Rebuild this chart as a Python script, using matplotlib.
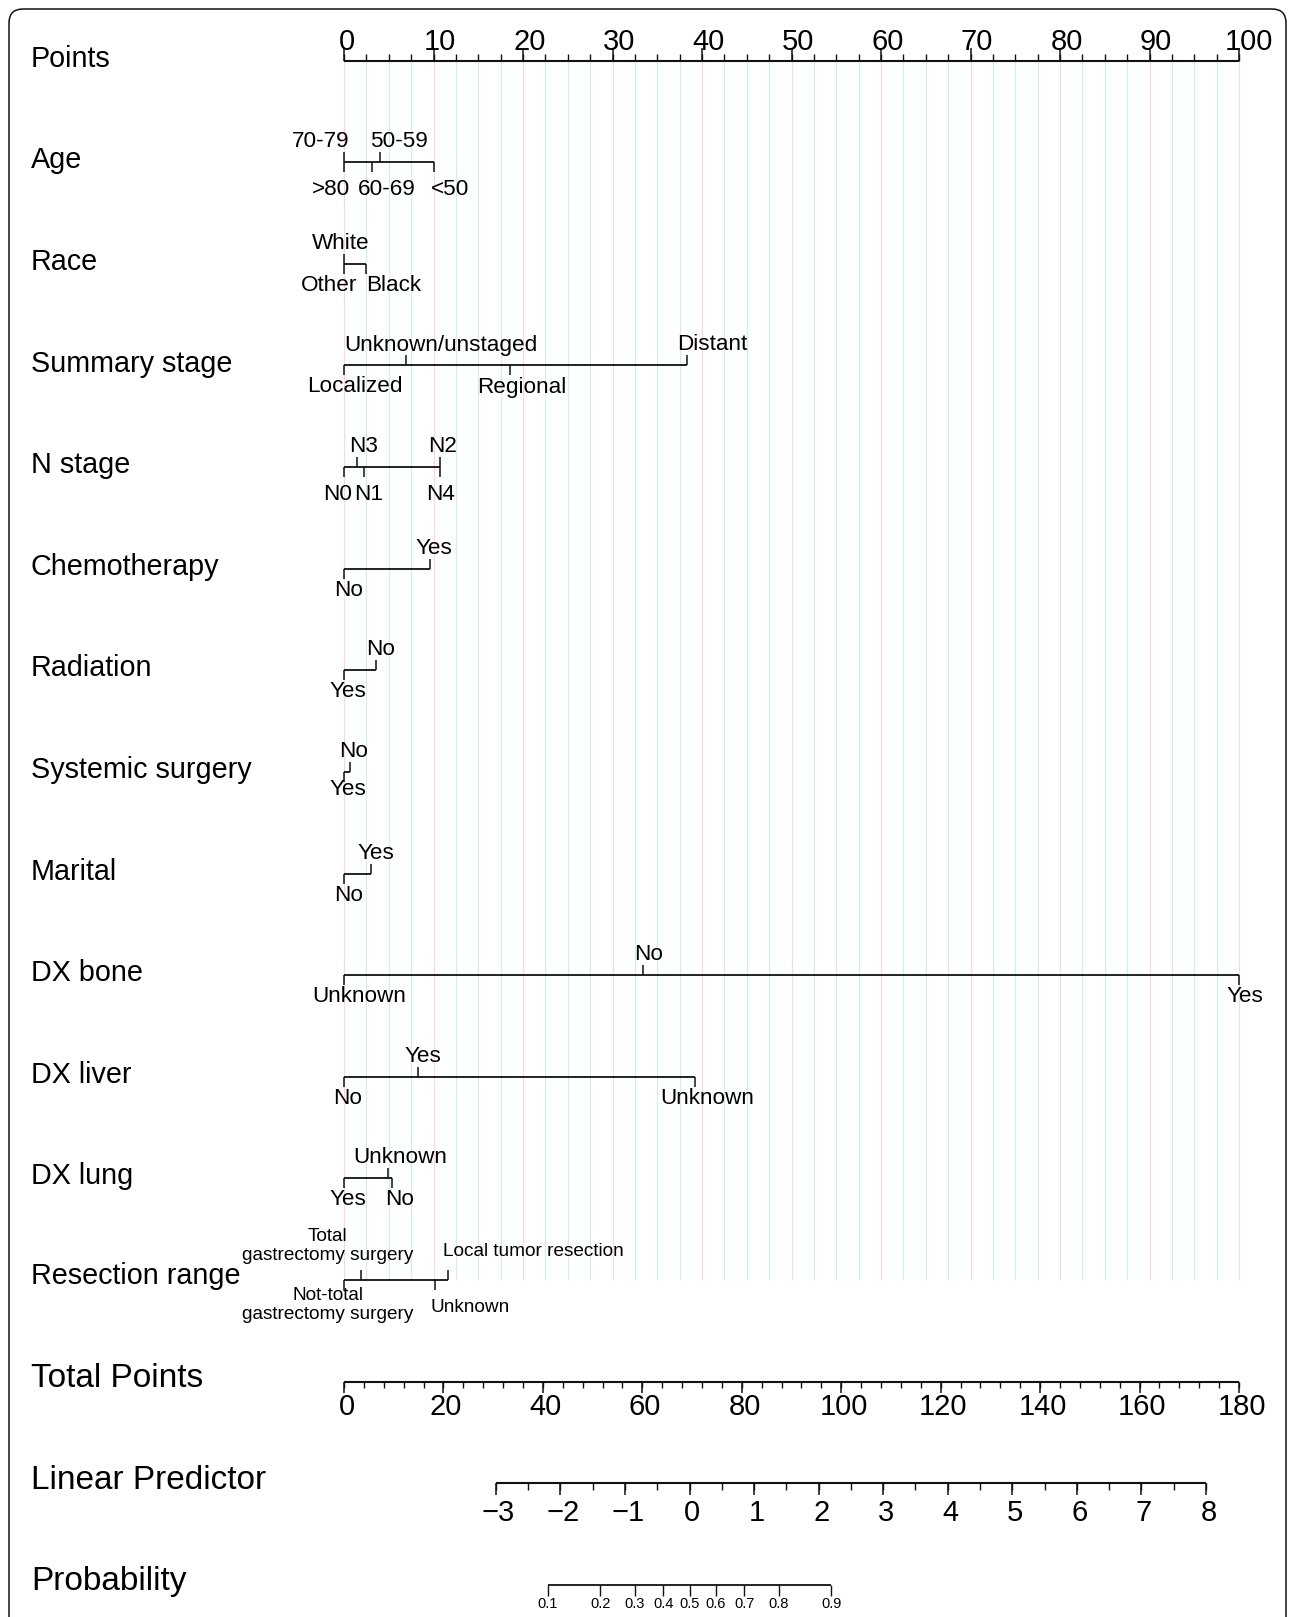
import numpy as np
import matplotlib
matplotlib.use("Agg")
import matplotlib.pyplot as plt
from matplotlib.patches import FancyBboxPatch

plt.rcParams['font.family'] = ['Liberation Sans', 'DejaVu Sans']

# ---------------- nomogram data (points per level) ----------------
age_levels = [">80", "70-79", "60-69", "50-59", "<50"]
age_points = [0.0, 0.0, 3.1, 4.0, 10.0]

race_levels = ["Other", "White", "Black"]
race_points = [0.0, 0.0, 2.5]

stage_levels = ["Localized", "Unknown/unstaged", "Regional", "Distant"]
stage_points = [0.0, 6.9, 18.5, 38.3]

n_levels = ["N0", "N3", "N1", "N2", "N4"]
n_points = [0.0, 1.5, 2.2, 10.7, 10.7]

chemo_levels = ["No", "Yes"]
chemo_points = [0.0, 9.6]

radiation_levels = ["Yes", "No"]
radiation_points = [0.0, 3.6]

systemic_levels = ["Yes", "No"]
systemic_points = [0.0, 0.7]

marital_levels = ["No", "Yes"]
marital_points = [0.0, 3.0]

bone_levels = ["Unknown", "No", "Yes"]
bone_points = [0.0, 33.4, 100.0]

liver_levels = ["No", "Yes", "Unknown"]
liver_points = [0.0, 8.3, 39.2]

lung_levels = ["Yes", "Unknown", "No"]
lung_points = [0.0, 4.9, 5.4]

resection_levels = ["Not-total\ngastrectomy surgery", "Total\ngastrectomy surgery",
                    "Unknown", "Local tumor resection"]
resection_points = [0.0, 1.9, 10.2, 11.6]

variable_names = ["Age", "Race", "Summary stage", "N stage", "Chemotherapy", "Radiation",
                  "Systemic surgery", "Marital", "DX bone", "DX liver", "DX lung",
                  "Resection range"]
variable_levels = [age_levels, race_levels, stage_levels, n_levels, chemo_levels,
                   radiation_levels, systemic_levels, marital_levels, bone_levels,
                   liver_levels, lung_levels, resection_levels]
variable_points = [age_points, race_points, stage_points, n_points, chemo_points,
                   radiation_points, systemic_points, marital_points, bone_points,
                   liver_points, lung_points, resection_points]

points_ticks = [0, 10, 20, 30, 40, 50, 60, 70, 80, 90, 100]
total_points_ticks = [0, 20, 40, 60, 80, 100, 120, 140, 160, 180]
total_points_max = 180
lp_ticks = [-3, -2, -1, 0, 1, 2, 3, 4, 5, 6, 7, 8]
lp_zero_total = 69.5       # total points at linear predictor 0
total_per_lp = 12.98       # total points per unit of linear predictor
prob_ticks = [0.1, 0.2, 0.3, 0.4, 0.5, 0.6, 0.7, 0.8, 0.9]

# ---------------- layout ----------------
W, H = 1295, 1617
X0, PX_PER_PT = 344.0, 8.95          # pixel of 0 points, pixels per point
ROW0, ROW_GAP = 60.7, 101.6          # pixel y of first scale, spacing
LABEL_X_PX = 31

# horizontal label nudges (in points) to keep level labels apart
label_nudge = {
    "Age": [-1.5, -2.6, 1.7, 2.1, 1.8],
    "Race": [-1.7, -0.35, 3.1],
    "Summary stage": [1.2, 3.9, 1.4, 2.9],
    "N stage": [-0.7, 0.7, 0.5, 0.3, 0.1],
    "Chemotherapy": [0.5, 0.4],
    "Radiation": [0.4, 0.5],
    "Systemic surgery": [0.4, 0.4],
    "Marital": [0.5, 0.6],
    "DX bone": [1.7, 0.6, 0.7],
    "DX liver": [0.4, 0.5, 1.4],
    "DX lung": [0.4, 1.4, 0.8],
    "Resection range": [-1.8, -3.7, 3.9, 9.6],
}
lower_baseline = {"Age": 33, "N stage": 33, "Systemic surgery": 23}

BLACK = "#111111"
GRID_MAJOR = "#FFD6D6"
GRID_MINOR = "#D2EEEC"

fig = plt.figure(figsize=(W / 100, H / 100), dpi=100)

# frame layer in pixel coordinates
fr = fig.add_axes([0, 0, 1, 1], zorder=0)
fr.set_xlim(0, W)
fr.set_ylim(H, 0)
fr.axis("off")
fr.add_patch(FancyBboxPatch((9, 9), W - 18, H + 100,
                            boxstyle="round,pad=0,rounding_size=14",
                            fill=False, lw=1.1, ec=BLACK))

# nomogram layer: x in points, y in pixels
ax = fig.add_axes([0, 0, 1, 1], zorder=1)
ax.patch.set_alpha(0)
ax.set_xlim(-X0 / PX_PER_PT, (W - X0) / PX_PER_PT)
ax.set_ylim(H, 0)
ax.axis("off")

row_y = [ROW0 + i * ROW_GAP for i in range(16)]
label_x = (LABEL_X_PX - X0) / PX_PER_PT

VAR_FS = 20.7
LEVEL_FS = 16.2
TICK_FS = 21
BOTTOM_FS = 24

# vertical reference grid
for g in np.arange(0, 100.001, 2.5):
    col = GRID_MAJOR if abs(g % 10) < 1e-9 else GRID_MINOR
    ax.vlines(g, row_y[0], row_y[12], color=col, lw=0.85, zorder=0)

# Points scale
y = row_y[0]
ax.text(label_x, y + 6, "Points", fontsize=VAR_FS, ha="left", va="baseline")
ax.hlines(y, 0, 100, color=BLACK, lw=1.5)
for m in np.arange(0, 100.001, 2.5):
    ax.vlines(m, y - 6.3, y, color=BLACK, lw=1.0)
for t in points_ticks:
    ax.vlines(t, y - 12.3, y, color=BLACK, lw=1.1)
    ax.text(t + 0.37 * len(str(t)), y - 11, str(t), fontsize=TICK_FS,
            ha="center", va="baseline")

# predictor scales
for i, (name, levels, pts) in enumerate(zip(variable_names, variable_levels, variable_points)):
    y = row_y[i + 1]
    ax.text(label_x, y + 6 if name != "Resection range" else y + 4, name,
            fontsize=VAR_FS, ha="left", va="baseline")
    ax.hlines(y, min(pts), max(pts), color=BLACK, lw=1.3)
    order = sorted(range(len(pts)), key=lambda k: pts[k])
    nudges = label_nudge[name]
    fs = 13.7 if name == "Resection range" else LEVEL_FS
    for rank, k in enumerate(order):
        p = pts[k]
        lev = levels[k]
        up = rank % 2 == 1
        if up:
            ax.vlines(p, y - 10, y, color=BLACK, lw=1.1)
        else:
            ax.vlines(p, y, y + 10, color=BLACK, lw=1.1)
        tx = p + nudges[k]
        if name == "Resection range":
            if "\n" in lev:
                if up:
                    ax.text(tx, y - 15.5, lev, fontsize=fs, ha="center", va="bottom",
                            multialignment="center", linespacing=1.15)
                else:
                    ax.text(tx, y + 7.5, lev, fontsize=fs, ha="center", va="top",
                            multialignment="center", linespacing=1.15)
            else:
                dy = -24 if up else 32.6
                ax.text(tx, y + dy, lev, fontsize=fs, ha="center", va="baseline")
        else:
            dy = -15 if up else lower_baseline.get(name, 27)
            ax.text(tx, y + dy, lev, fontsize=fs, ha="center", va="baseline")

# Total Points scale
scale = 100.0 / total_points_max
y = row_y[13]
ax.text(label_x, y + 5.6, "Total Points", fontsize=BOTTOM_FS, ha="left", va="baseline")
ax.hlines(y, 0, total_points_max * scale, color=BLACK, lw=1.5)
for m in np.arange(0, total_points_max + 0.001, 4):
    ax.vlines(m * scale, y, y + 6.7, color=BLACK, lw=1.0)
for t in total_points_ticks:
    ax.vlines(t * scale, y, y + 11.7, color=BLACK, lw=1.1)
    ax.text(t * scale + 0.3, y + 33, str(t), fontsize=TICK_FS, ha="center", va="baseline")


def lp_to_x(lp):
    return (lp_zero_total + total_per_lp * np.asarray(lp, dtype=float)) * scale


# Linear Predictor scale
y = row_y[14]
ax.text(label_x, y + 5.6, "Linear Predictor", fontsize=BOTTOM_FS, ha="left", va="baseline")
ax.hlines(y, lp_to_x(lp_ticks[0]), lp_to_x(lp_ticks[-1]), color=BLACK, lw=1.5)
for m in np.arange(lp_ticks[0], lp_ticks[-1] + 0.001, 0.5):
    ax.vlines(lp_to_x(m), y, y + 6.7, color=BLACK, lw=1.0)
for t in lp_ticks:
    ax.vlines(lp_to_x(t), y, y + 11.7, color=BLACK, lw=1.1)
    lab = str(t).replace("-", "\u2212")
    ax.text(lp_to_x(t) + 0.3, y + 38.3, lab, fontsize=TICK_FS, ha="center", va="baseline")

# Probability scale
y = row_y[15]
ax.text(label_x, y + 5.6, "Probability", fontsize=BOTTOM_FS, ha="left", va="baseline")
p_arr = np.array(prob_ticks)
px = lp_to_x(np.log(p_arr / (1 - p_arr)))
ax.hlines(y, px[0], px[-1], color=BLACK, lw=1.3)
for x, p in zip(px, prob_ticks):
    ax.vlines(x, y, y + 11.7, color=BLACK, lw=1.0)
    ax.text(x, y + 23.3, f"{p:.1f}", fontsize=10.5, ha="center", va="baseline")

fig.savefig("out.png", dpi=100)
